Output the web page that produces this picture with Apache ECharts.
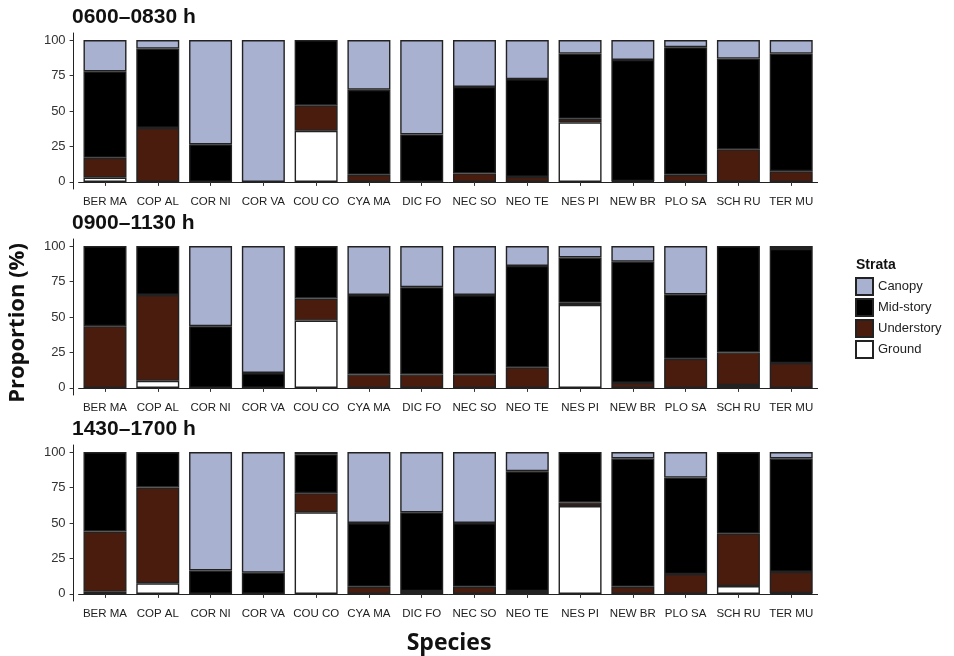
<!DOCTYPE html>
<html lang="en">
<head>
    <meta charset="UTF-8">
    <title>Strata use by species</title>
    <script src="https://cdn.jsdelivr.net/npm/echarts@6/dist/echarts.min.js"></script>
</head>
<style>
    body { margin:0; padding:0; background:#fff; }
    #main { width:954px; height:656px; }
</style>
<body>
<div id="main"></div>

<script>
    var species = ['BER MA','COP AL','COR NI','COR VA','COU CO','CYA MA','DIC FO',
                   'NEC SO','NEO TE','NES PI','NEW BR','PLO SA','SCH RU','TER MU'];
    var periods = ['0600–0830 h', '0900–1130 h', '1430–1700 h'];
    var yTicks = [0, 25, 50, 75, 100];

    // 0600-0830
    var ground1 = [3, 0, 0, 0, 36, 0, 0, 0, 0, 42, 0, 0, 0, 0];
    var under1  = [14, 38, 0, 0, 18, 5, 0, 6, 3.5, 2.5, 0.5, 5, 23, 7.5];
    var mid1    = [61, 56, 26.5, 0, 46, 60, 33.5, 61, 69, 46, 85.5, 90, 64, 83];
    var canopy1 = [22, 6, 73.5, 100, 0, 35, 66.5, 33, 27.5, 9.5, 14, 5, 13, 9.5];

    // 0900-1130
    var ground2 = [0, 5, 0, 0, 47.5, 0, 0, 0, 0, 58.5, 0, 0, 2, 0];
    var under2  = [43.5, 60.5, 0, 0, 15.5, 9.5, 9.5, 9.5, 14.5, 1.5, 3.5, 20.5, 23, 17.5];
    var mid2    = [56.5, 34.5, 43.5, 10.5, 37, 56, 61.5, 56, 71.5, 32, 85.5, 45.5, 75, 80.5];
    var canopy2 = [0, 0, 56.5, 89.5, 0, 34.5, 29, 34.5, 14, 8, 11, 34, 0, 2];

    // 1430-1700
    var ground3 = [1.5, 7.5, 0, 0, 57.5, 0, 0, 0, 0, 62, 0, 0, 5.5, 0.5];
    var under3  = [42.5, 67.5, 0, 0, 13.5, 5, 2, 5, 2, 2.5, 5, 14, 37, 15];
    var mid3    = [56, 25, 16.5, 15, 27.5, 45, 55.5, 45, 84.5, 35.5, 90.5, 68, 57.5, 80];
    var canopy3 = [0, 0, 83.5, 85, 1.5, 50, 42.5, 50, 13.5, 0, 4.5, 18, 0, 4.5];

    var strata = ['Ground', 'Understory', 'Mid-story', 'Canopy'];
    var colors = {'Ground':'#ffffff', 'Understory':'#4a1c0e', 'Mid-story':'#000000', 'Canopy':'#a9b1d1'};
    var panels = [
        [ground1, under1, mid1, canopy1],
        [ground2, under2, mid2, canopy2],
        [ground3, under3, mid3, canopy3]
    ];

    var gridTops = [33, 239, 445];
    var font = 'Liberation Sans, Arial, sans-serif';

    var grids = [], xAxes = [], yAxes = [], titles = [], series = [];
    gridTops.forEach(function (top, p) {
        grids.push({left: 78.6, width: 739, top: top, height: 156});
        xAxes.push({
            type: 'category', gridIndex: p, data: species,
            axisLine: {show: true, lineStyle: {color: '#222', width: 1}},
            axisTick: {show: true, length: 4, alignWithLabel: true, lineStyle: {color: '#333'}},
            axisLabel: {fontFamily: font, fontSize: 11.5, color: '#222', margin: 7, interval: 0}
        });
        yAxes.push({
            type: 'value', gridIndex: p, min: -5, max: 105, offset: 5,
            splitLine: {show: false},
            axisLine: {show: true, lineStyle: {color: '#222', width: 1}},
            axisTick: {show: true, length: 4, lineStyle: {color: '#333'}, customValues: yTicks},
            axisLabel: {fontFamily: font, fontSize: 13, color: '#333', margin: 8, customValues: yTicks}
        });
        titles.push({
            text: periods[p], left: 72, top: top - 26, padding: 0,
            textStyle: {fontFamily: font, fontSize: 21, fontWeight: 'bold', color: '#111'}
        });
        strata.forEach(function (name, k) {
            series.push({
                name: name, type: 'bar', stack: 'p' + p,
                xAxisIndex: p, yAxisIndex: p,
                barWidth: 43,
                itemStyle: {color: colors[name], borderColor: '#222', borderWidth: 1.4},
                emphasis: {disabled: true},
                data: panels[p][k].map(function (v) { return v === 0 ? null : v; })
            });
        });
    });

    var myChart = echarts.init(document.getElementById('main'));
    myChart.setOption({
        animation: false,
        title: titles,
        grid: grids,
        xAxis: xAxes,
        yAxis: yAxes,
        legend: {
            data: ['Canopy', 'Mid-story', 'Understory', 'Ground'],
            orient: 'vertical', left: 855, top: 277, padding: 0,
            itemWidth: 17, itemHeight: 17, itemGap: 2, icon: 'rect',
            selectedMode: false,
            textStyle: {fontFamily: font, fontSize: 13, color: '#222'}
        },
        graphic: [
            {type: 'text', left: 856, top: 258,
                style: {text: 'Strata', font: 'bold 14px Liberation Sans, Arial, sans-serif', fill: '#111'}},
            {type: 'text', x: 18, y: 323, rotation: Math.PI / 2,
                style: {text: 'Proportion (%)', font: 'bold 22px Open Sans, sans-serif', fill: '#111',
                    align: 'center', verticalAlign: 'middle'}},
            {type: 'text', x: 449, y: 643,
                style: {text: 'Species', font: 'bold 23px Open Sans, sans-serif', fill: '#111',
                    align: 'center', verticalAlign: 'middle'}}
        ],
        series: series
    });
</script>
</body>
</html>
